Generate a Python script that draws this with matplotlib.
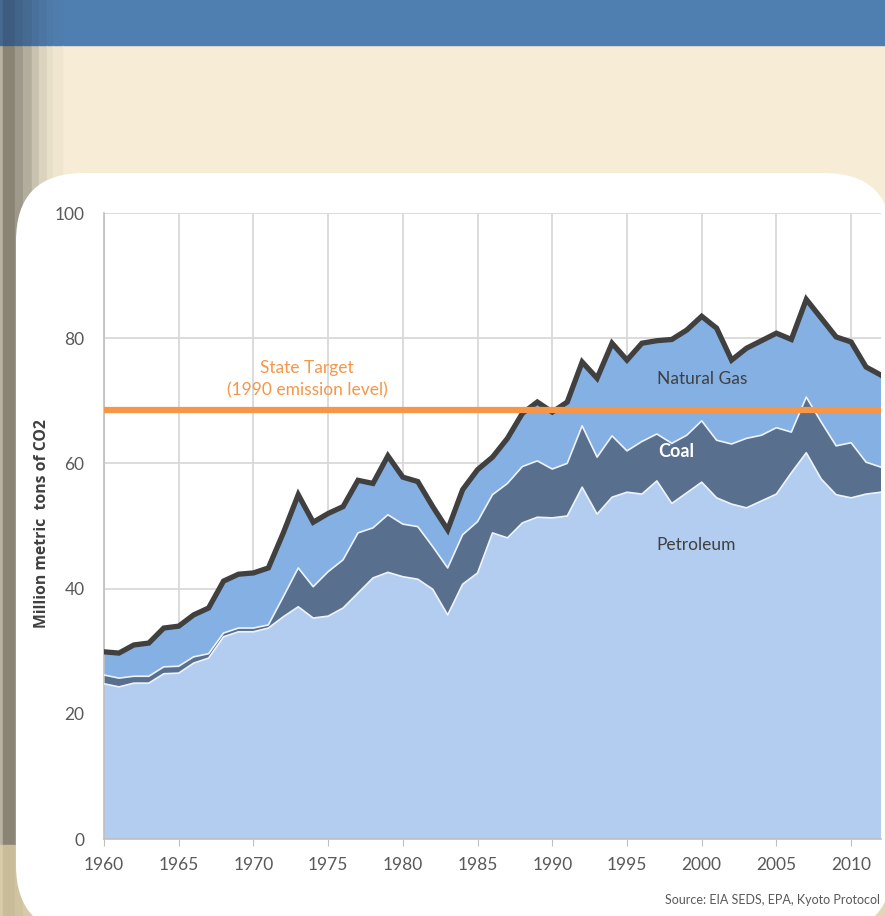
import numpy as np
import matplotlib
matplotlib.use('Agg')
import matplotlib.pyplot as plt
from matplotlib import font_manager
from matplotlib.patches import Rectangle, FancyBboxPatch

# pick fonts that exist
names = set(f.name for f in font_manager.fontManager.ttflist)
narrow = 'Liberation Sans Narrow' if 'Liberation Sans Narrow' in names else 'Lato'
body = 'Lato' if 'Lato' in names else 'DejaVu Sans'
label_font = 'Open Sans' if 'Open Sans' in names else body

# data (million metric tons of CO2)
years = list(range(1960, 2013))
petroleum = [24.8, 24.3, 24.9, 24.9, 26.4, 26.5, 28.1, 28.9, 32.3, 33.1,
             33.1, 33.7, 35.5, 37.1, 35.3, 35.6, 36.9, 39.3, 41.7, 42.6,
             41.9, 41.5, 39.9, 35.8, 40.7, 42.5, 48.9, 48.1, 50.5, 51.4,
             51.3, 51.6, 56.2, 51.9, 54.6, 55.4, 55.1, 57.2, 53.6, 55.3,
             57.0, 54.5, 53.5, 52.9, 54.0, 55.1, 58.5, 61.7, 57.5, 55.0,
             54.5, 55.1, 55.4]
coal = [1.4, 1.4, 1.1, 1.1, 1.1, 1.1, 1.0, 0.7, 0.6, 0.6,
        0.6, 0.5, 3.2, 6.2, 5.0, 7.1, 7.7, 9.6, 8.0, 9.2,
        8.4, 8.4, 6.8, 7.5, 7.9, 8.2, 6.1, 8.7, 9.0, 9.0,
        7.8, 8.4, 9.8, 9.1, 9.8, 6.6, 8.4, 7.5, 9.6, 9.2,
        9.8, 9.2, 9.6, 11.1, 10.5, 10.6, 6.5, 8.9, 9.1, 7.8,
        8.8, 5.1, 4.0]
natural_gas = [3.7, 4.0, 5.0, 5.3, 6.2, 6.4, 6.7, 7.3, 8.3, 8.6,
               8.8, 9.1, 10.2, 11.7, 10.3, 9.3, 8.5, 8.4, 7.1, 9.4,
               7.5, 7.2, 6.4, 6.1, 7.2, 8.3, 6.0, 7.2, 8.5, 9.4,
               9.1, 9.8, 10.2, 12.6, 14.8, 14.5, 15.7, 14.9, 16.6, 16.8,
               16.7, 17.9, 13.4, 14.4, 15.1, 15.1, 14.8, 15.6, 16.6, 17.4,
               16.1, 15.2, 14.7]
target = 68.5
xticks = list(range(1960, 2011, 5))
yticks = [0, 20, 40, 60, 80, 100]

fig = plt.figure(figsize=(8.85, 9.16), dpi=100)

# slide background drawn in pixel coordinates
bg = fig.add_axes([0, 0, 1, 1])
bg.set_xlim(0, 885)
bg.set_ylim(916, 0)
bg.axis('off')
bg.add_patch(Rectangle((0, 0), 885, 916, color='#F7ECD5'))
bg.add_patch(Rectangle((0, 845), 885, 71, color='#E2D6B4'))
bg.add_patch(Rectangle((0, 0), 885, 45, color='#4F7FB1'))
bands = [(0, 3), (3, 15), (15, 23), (23, 32), (32, 39), (39, 47), (47, 53), (53, 62)]
grey = ['#B9B2A1', '#8A8474', '#9E998A', '#B3AD9B', '#C9C2AE', '#DBD3BE', '#E8DFC9', '#F0E6D0']
blue = ['#46698F', '#3D5C80', '#426488', '#466B92', '#4A719B', '#4C75A3', '#4E7AAA', '#4F7DAE']
tan = ['#D8CCA8', '#C9BD99', '#CFC3A0', '#D6CAA8', '#DCD1B0', '#E1D6B6', '#E3D8B8', '#E3D8B8']
for (a, b), g, bl, t in zip(bands, grey, blue, tan):
    bg.add_patch(Rectangle((a, 45), b - a, 800, color=g))
    bg.add_patch(Rectangle((a, 0), b - a, 45, color=bl))
    bg.add_patch(Rectangle((a, 845), b - a, 71, color=t))
bg.add_patch(FancyBboxPatch((16, 173), 876, 760,
                            boxstyle='round,pad=0,rounding_size=68',
                            facecolor='white', edgecolor='none'))

# chart
ax = fig.add_axes([104 / 885, 1 - 839 / 916, (881 - 104) / 885, (839 - 213) / 916])
ax.set_facecolor('none')
ax.stackplot(years, petroleum, coal, natural_gas,
             colors=['#B2CDF0', '#586F8D', '#85B0E3'], linewidth=0, zorder=2)
layers = np.cumsum(np.vstack([petroleum, coal, natural_gas]), axis=0)
ax.plot(years, layers[0], color='#EEF3FA', lw=1.2, zorder=3)
ax.plot(years, layers[1], color='#EEF3FA', lw=1.2, zorder=3)
ax.plot(years, layers[2], color='#404040', lw=3.8, zorder=4,
        solid_joinstyle='miter')
ax.axhline(target, color='#F79646', lw=4.5, zorder=5)

ax.set_xlim(1960, 2012)
ax.set_ylim(0, 100)
ax.set_xticks(xticks)
ax.set_yticks(yticks)
ax.grid(True, color='#D9D9D9', lw=1.3, zorder=0)
ax.set_axisbelow(True)
for s in ['top', 'right']:
    ax.spines[s].set_visible(False)
for s in ['left', 'bottom']:
    ax.spines[s].set_color('#BFBFBF')
    ax.spines[s].set_linewidth(1.2)
ax.tick_params(axis='x', length=5, color='#BFBFBF', pad=8,
               labelsize=12.5, labelcolor='#595959')
ax.tick_params(axis='y', length=0, pad=14, labelsize=12.5, labelcolor='#595959')
for lab in ax.get_xticklabels() + ax.get_yticklabels():
    lab.set_family(narrow)

fig.text(42 / 885, 1 - 524 / 916, 'Million metric  tons of CO2', rotation=90,
         ha='center', va='center', fontsize=11.3, fontweight='bold',
         color='#404040', family=label_font)

ax.text(1973.6, 73.5, 'State Target\n(1990 emission level)', ha='center', va='center',
        fontsize=12.5, color='#F79646', family=body, linespacing=1.5, zorder=6)
ax.text(2000.0, 73.5, 'Natural Gas', ha='center', va='center', fontsize=12.5,
        color='#404040', family=body, zorder=6)
ax.text(1998.3, 61.9, 'Coal', ha='center', va='center', fontsize=13,
        fontweight='bold', color='white', family=body, zorder=6)
ax.text(1999.6, 46.9, 'Petroleum', ha='center', va='center', fontsize=12.5,
        color='#404040', family=body, zorder=6)

fig.text(880 / 885, 1 - 900 / 916, 'Source: EIA SEDS, EPA, Kyoto Protocol',
         ha='right', va='center', fontsize=9, color='#595959', family=narrow)

fig.savefig('out.png', dpi=100)
